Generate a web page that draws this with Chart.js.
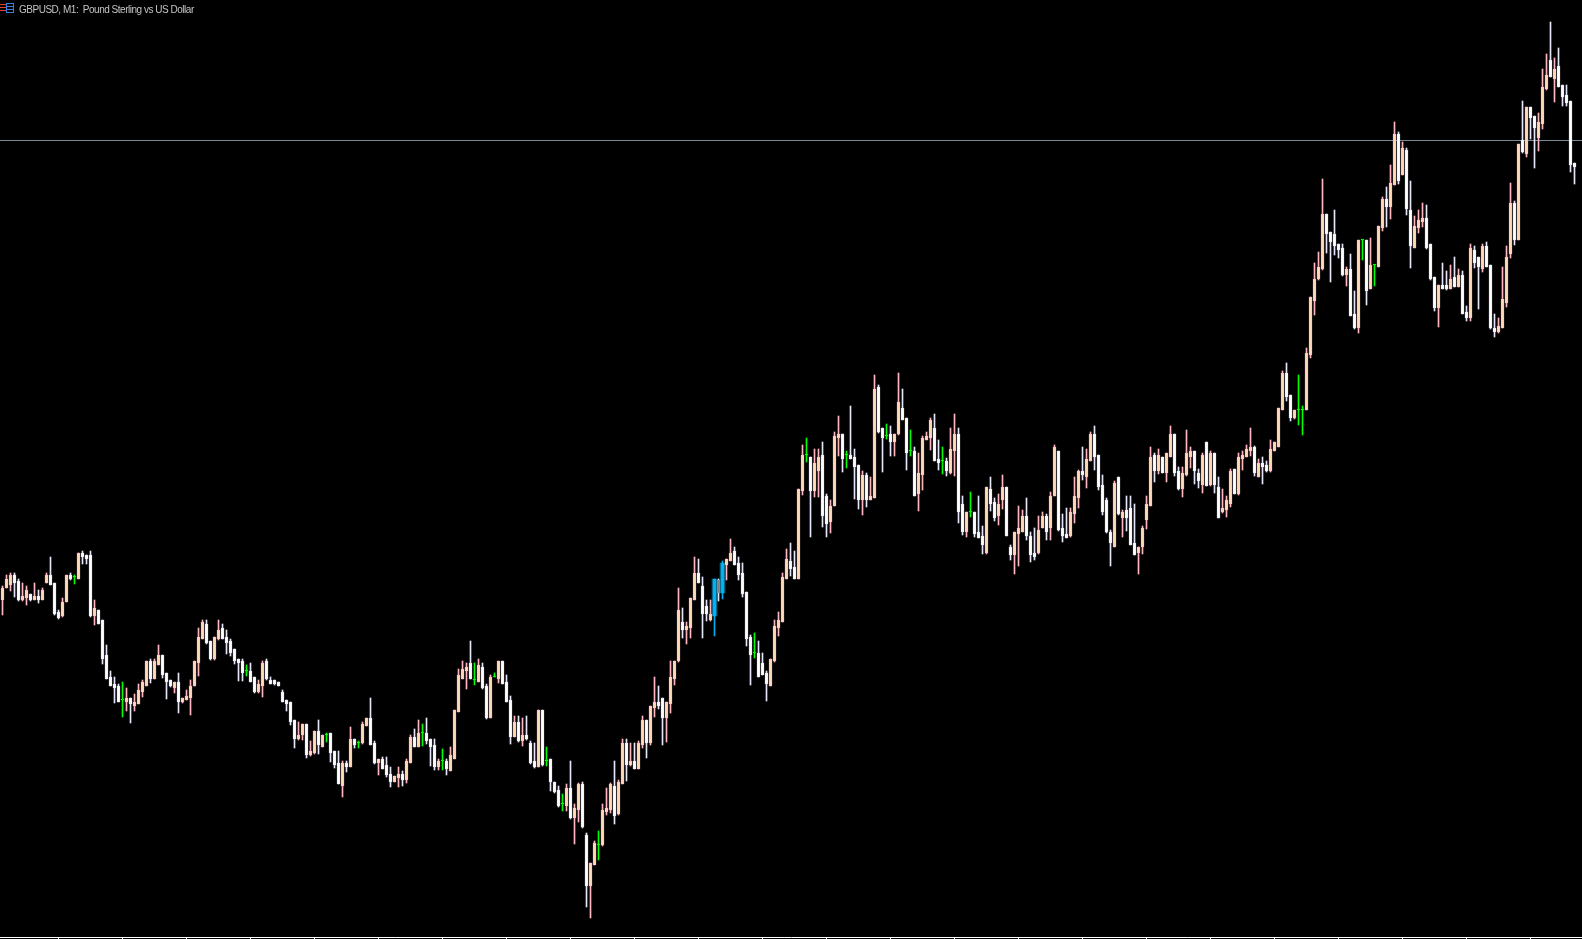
<!DOCTYPE html>
<html>
<head>
<meta charset="utf-8">
<title>GBPUSD, M1</title>
<script src="https://cdn.jsdelivr.net/npm/chart.js@4/dist/chart.umd.min.js"></script>
<style>
    html, body { margin: 0; padding: 0; background: #000; overflow: hidden; }
    #chartBox { position: relative; width: 1582px; height: 939px; }
    #chart { display: block; }
    #caption { position: absolute; left: 19px; top: 1px; font: 10px/17px "Liberation Sans", sans-serif; letter-spacing: -0.48px; color: #c4c4c4; white-space: pre; }
    #flag { position: absolute; left: 0; top: 3px; }
</style>
</head>
<body>
<div id="chartBox">
    <canvas id="chart" width="1582" height="939"></canvas>
    <svg id="flag" width="14" height="10" viewBox="0 0 14 10">
        <rect x="0" y="1" width="6" height="1" fill="#e8402f"/>
        <rect x="0" y="4" width="6" height="1" fill="#e8402f"/>
        <rect x="0" y="7" width="6" height="1" fill="#e8402f"/>
        <rect x="6.5" y="0.5" width="7" height="9" fill="none" stroke="#3a7fd8"/>
        <rect x="7" y="3" width="6" height="1" fill="#3a7fd8"/>
        <rect x="7" y="6" width="6" height="1" fill="#3a7fd8"/>
    </svg>
    <div id="caption">GBPUSD, M1:  Pound Sterling vs US Dollar</div>
</div>
<script>
// Candles, in points above the bottom of the window
const opens = [
    337,349,352,362,356,337,339,343,337,341, 337,354,362,354,325,321,335,362,360,358,
    384,382,382,321,327,317,282,260,253,251, 237,235,239,231,233,245,251,276,258,272,
    282,264,257,249,255,235,237,239,251,274, 298,313,296,278,298,309,300,296,288,278,
    276,266,266,260,245,251,276,257,257,255, 245,237,235,217,198,202,213,182,184,206,
    190,202,204,186,174,151,174,170,198,194, 194,211,219,194,174,178,172,163,155,159,
    163,157,174,200,190,204,204,198,192,170, 176,176,166,178,225,258,266,274,257,255,
    270,251,219,260,258,276,255,237,200,215, 196,202,194,176,170,227,176,178,155,147,
    133,131,149,119,127,153,102,51,72,92, 92,125,127,151,123,153,194,172,176,168,
    192,217,194,229,235,239,219,233,258,276, 315,307,309,337,364,351,331,317,321,357,
    344,372,376,386,374,364,345,300,284,284, 274,264,251,276,309,315,358,376,370,358,
    446,482,480,446,466,482,441,415,431,499, 503,482,482,480,472,437,462,437,439,550,
    509,501,503,495,503,529,519,486,486,443, 462,497,499,509,478,476,476,464,486,503,
    433,405,425,425,405,401,384,448,435,421, 437,450,390,382,403,405,421,401,384,384,
    409,421,409,441,486,409,403,401,423,439, 466,460,476,503,482,452,437,405,390,460,
    419,427,429,394,384,390,417,431,482,466, 480,464,480,503,466,448,462,480,486,464,
    452,495,452,484,450,425,427,433,468,443, 478,480,486,490,460,474,472,466,486,490,
    527,564,542,519,527,527,527,582,636,658, 668,723,705,703,693,689,662,668,623,609,
    697,697,648,672,670,709,738,730,752,803, 762,787,727,689,709,715,719,693,660,629,
    652,652,648,660,650,662,625,619,687,680, 668,691,672,609,605,609,634,683,734,697,
    797,783,830,821,799,813,848,877,858,871, 852,842,836,774
];
const highs = [
    351,362,364,364,358,354,351,343,354,347, 349,364,380,354,327,339,362,364,362,384,
    386,382,386,337,327,317,292,266,260,253, 255,249,239,243,253,257,276,278,278,292,
    282,264,257,255,264,239,247,257,276,309, 317,317,296,300,317,313,307,298,288,278,
    278,272,274,260,257,276,278,260,257,255, 247,237,235,217,215,213,213,196,206,217,
    202,204,204,186,186,176,176,210,198,196, 215,219,239,196,178,180,180,170,161,170,
    166,178,202,208,217,213,219,198,198,178, 188,178,190,227,268,276,274,296,274,278,
    274,253,262,264,276,276,262,241,221,221, 219,221,196,194,227,227,190,178,155,151,
    143,153,176,133,154,155,104,74,96,106, 133,149,154,176,157,198,198,194,194,196,
    221,217,231,260,251,239,235,276,276,349, 329,315,339,380,378,360,337,337,358,358,
    376,378,398,390,380,374,345,302,304,296, 284,266,278,317,325,364,388,394,386,448,
    492,499,480,488,488,495,443,437,505,521, 503,486,531,488,472,466,464,460,562,552,
    509,513,511,503,564,548,519,507,490,484, 501,505,519,523,497,490,479,509,523,509,
    441,425,445,425,441,411,450,460,439,443, 462,450,392,405,431,427,439,405,409,421,
    425,423,445,492,486,423,429,429,460,467, 490,488,505,511,482,462,439,407,456,460,
    427,441,441,433,390,411,441,490,484,488, 480,484,511,503,470,470,507,490,486,468,
    484,495,486,484,460,448,441,468,468,484, 486,492,509,491,478,480,476,497,495,529,
    566,574,542,527,562,531,589,640,674,685, 758,723,705,727,693,693,670,683,646,697,
    697,697,699,672,711,740,750,772,815,805, 795,789,756,721,727,734,732,693,660,652,
    674,666,672,680,668,666,631,693,691,680, 693,695,672,623,619,670,691,754,736,793,
    836,830,830,821,824,868,883,915,879,889, 852,852,836,774
];
const lows = [
    322,349,346,340,336,336,332,336,337,334, 337,354,352,322,318,320,335,357,353,358,
    373,373,320,312,313,273,258,251,234,235, 220,226,214,226,233,240,251,254,258,272,
    259,238,250,244,224,234,237,222,251,261, 298,293,277,277,297,298,283,281,273,256,
    256,261,255,244,244,240,257,253,252,251, 235,226,212,189,197,197,179,181,183,183,
    190,195,175,169,153,140,165,170,189,189, 193,211,192,173,162,168,160,150,155,150,
    151,154,174,190,190,191,193,171,167,167, 167,162,166,178,225,258,248,258,252,255,
    248,218,219,260,254,253,235,193,200,195, 191,197,173,169,170,171,171,146,144,130,
    126,126,118,93,115,109,30,19,72,77, 91,122,124,113,122,153,156,171,168,168,
    189,179,192,220,228,192,195,224,252,275, 299,293,299,337,354,299,316,316,301,336,
    338,357,376,372,357,340,291,252,279,260, 262,236,251,275,301,315,358,361,358,358,
    442,475,400,440,440,410,400,404,431,481, 465,469,478,438,428,422,430,437,439,504,
    465,498,481,481,502,517,467,481,441,426, 447,497,487,476,467,463,461,463,461,414,
    402,400,420,400,399,383,383,426,416,412, 428,401,377,363,371,405,397,375,377,383,
    409,397,397,441,406,395,399,400,414,429, 457,449,476,467,447,422,404,371,390,422,
    400,406,392,382,363,383,408,431,455,463, 464,455,480,461,447,440,461,469,453,449,
    444,451,451,444,419,424,420,430,443,442, 467,480,481,461,460,453,465,465,486,490,
    527,536,516,518,512,502,527,579,622,657, 667,684,655,682,679,661,651,621,608,604,
    677,632,648,651,670,706,710,718,752,753, 762,722,669,689,704,710,688,657,626,610,
    648,647,648,650,650,623,616,616,669,628, 665,670,608,600,604,609,630,679,692,697,
    784,780,798,769,786,808,847,860,835,850, 831,831,765,753
];
const closes = [
    349,358,362,354,337,341,347,337,341,337, 347,362,352,323,319,335,362,358,360,384,
    380,378,321,329,313,278,258,251,249,235, 237,239,233,235,247,255,276,258,276,282,
    262,255,251,255,235,239,241,251,276,300, 315,294,278,300,307,298,294,284,276,274,
    264,266,255,245,253,274,258,253,253,251, 235,233,215,198,202,213,182,186,206,192,
    202,202,184,172,153,174,170,198,192,194, 213,219,192,174,178,168,162,155,161,163,
    157,176,200,190,204,204,196,190,170,176, 176,168,182,227,262,268,270,258,257,272,
    249,219,260,260,276,253,235,200,215,196, 202,198,174,170,227,172,176,155,145,131,
    133,149,119,129,153,110,51,74,94,92, 127,129,153,121,155,194,172,176,168,194,
    217,194,231,235,231,219,235,260,276,327, 307,311,339,364,354,323,323,323,358,344,
    374,378,384,372,362,343,298,282,284,260, 262,253,278,311,317,360,378,368,358,448,
    482,482,446,474,480,421,413,431,501,503, 478,482,478,470,437,462,437,441,548,505,
    499,501,495,503,535,517,484,486,441,464, 499,501,517,476,474,476,466,488,503,425,
    405,425,425,403,399,392,450,433,419,433, 450,401,382,405,409,421,401,382,380,407,
    421,405,441,490,407,401,399,425,441,466, 462,478,503,480,450,425,405,394,454,423,
    425,419,392,382,390,409,433,480,466,482, 464,484,503,464,448,464,484,486,466,456,
    482,451,484,452,419,429,437,466,443,480, 482,488,490,464,474,470,466,488,495,529,
    564,540,519,527,527,527,584,640,658,670, 723,703,695,691,687,662,668,621,609,697,
    697,646,672,672,711,738,730,754,803,756, 789,728,691,711,717,719,689,658,629,652,
    648,648,658,650,662,623,619,689,674,670, 691,670,609,605,611,638,680,734,697,793,
    785,830,819,809,815,850,862,860,868,850, 840,834,772,770
];

// Indicator highlighted candles
const blueCandles = [178, 180];
const grayCandles = [179];

// Bid line level and one time tick every 16 candles
const bidLevel = 796.5;
const firstTick = 14;
const tickEvery = 16;

// Colours per kind of candle
const colors = {
    up:   { wick: "#ffb6c1", fill: "#ffdab9", edge: "#ffc0cb" },
    down: { wick: "#e6e6fa", fill: "#ffffff", edge: "#ececfb" },
    doji: { wick: "#00ff00", fill: "#00ff00", edge: "#00ff00" },
    blue: { wick: "#00aeef", fill: "#00b4f5", edge: "#00aeef" },
    gray: { wick: "#e6e6fa", fill: "#808080", edge: "#8c8c8c" }
};

function candleColor(i) {
    if (blueCandles.includes(i)) return colors.blue;
    if (grayCandles.includes(i)) return colors.gray;
    if (opens[i] === closes[i]) return colors.doji;
    return closes[i] > opens[i] ? colors.up : colors.down;
}

const wickData = opens.map((o, i) => ({ x: i, y: [lows[i], highs[i]] }));
const bodyData = opens.map((o, i) => ({ x: i, y: [Math.min(o, closes[i]), Math.max(o, closes[i])] }));
const glowData = blueCandles.map(i => bodyData[i]);

new Chart(document.getElementById("chart"), {
    data: {
        datasets: [
            {
                type: "bar",
                order: 1,
                data: bodyData,
                barThickness: 3,
                minBarLength: 1,
                grouped: false,
                borderWidth: 1,
                borderSkipped: false,
                backgroundColor: bodyData.map((d, i) => candleColor(i).fill),
                borderColor: bodyData.map((d, i) => candleColor(i).edge)
            },
            {
                type: "bar",
                order: 2,
                data: wickData,
                barThickness: 1,
                grouped: false,
                backgroundColor: wickData.map((d, i) => candleColor(i).wick)
            },
            {
                type: "bar",
                order: 3,
                data: glowData,
                barThickness: 5,
                grouped: false,
                backgroundColor: "#05607f"
            },
            {
                type: "line",
                order: 4,
                data: [{ x: -1, y: bidLevel }, { x: 396, y: bidLevel }],
                borderColor: "#778899",
                borderWidth: 1,
                pointRadius: 0
            }
        ]
    },
    options: {
        responsive: false,
        animation: false,
        events: [],
        layout: { padding: 0 },
        plugins: { legend: { display: false }, tooltip: { enabled: false }, title: { display: false } },
        scales: {
            x: {
                type: "linear",
                offset: false,
                min: -0.625,
                max: 394.875,
                border: { color: "#ffffff", width: 1 },
                grid: { offset: false, drawOnChartArea: false, drawTicks: true, tickLength: 2, color: "#ffffff" },
                ticks: { display: false },
                afterBuildTicks: axis => {
                    const marks = [];
                    for (let i = firstTick; i < opens.length; i += tickEvery) marks.push({ value: i });
                    axis.ticks = marks;
                }
            },
            y: { type: "linear", display: false, min: 0, max: 937 }
        }
    }
});
</script>
</body>
</html>
